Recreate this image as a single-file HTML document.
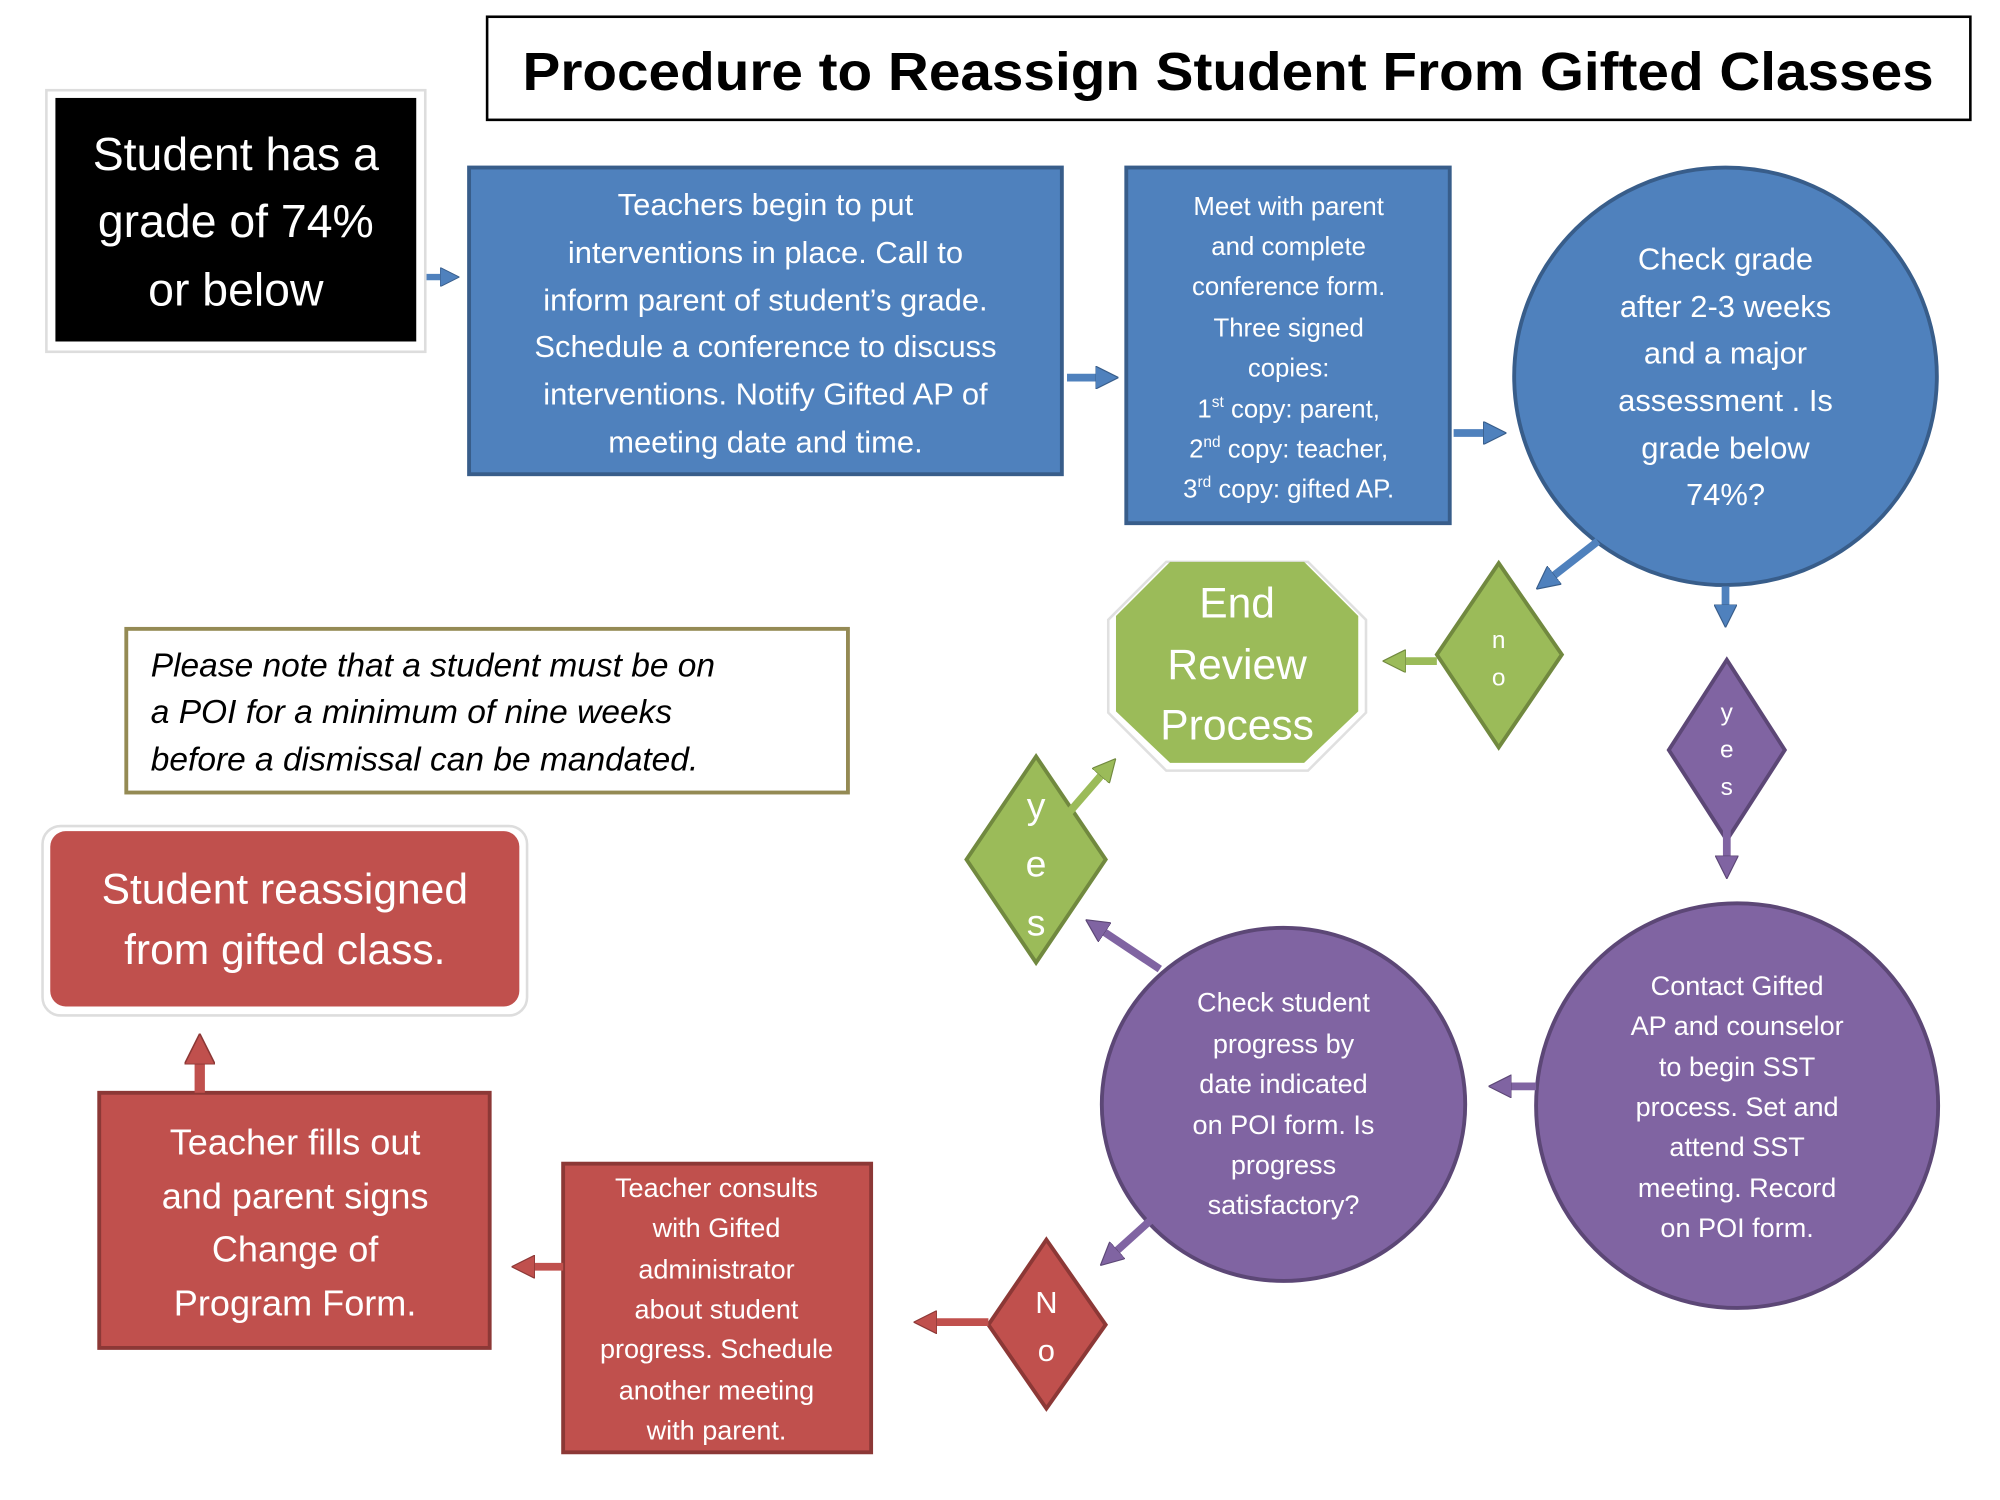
<!DOCTYPE html>
<html><head><meta charset="utf-8"><style>
html,body{margin:0;padding:0;background:#fff;}
svg{display:block;}
text{font-family:"Liberation Sans",sans-serif;}
</style></head><body>
<svg width="2000" height="1500" viewBox="0 0 1552 1164" preserveAspectRatio="none" xmlns="http://www.w3.org/2000/svg">
<defs>
<marker id="hb" markerWidth="3" markerHeight="3" refX="0.5" refY="1.5" orient="auto" markerUnits="strokeWidth"><path d="M0,0 L3,1.5 L0,3 Z" fill="#4f81bd" stroke="#385d8a" stroke-width="0.15"/></marker>
<marker id="hg" markerWidth="3" markerHeight="3" refX="0.5" refY="1.5" orient="auto" markerUnits="strokeWidth"><path d="M0,0 L3,1.5 L0,3 Z" fill="#9bbb59" stroke="#71893f" stroke-width="0.15"/></marker>
<marker id="hp" markerWidth="3" markerHeight="3" refX="0.5" refY="1.5" orient="auto" markerUnits="strokeWidth"><path d="M0,0 L3,1.5 L0,3 Z" fill="#8064a2" stroke="#5c4776" stroke-width="0.15"/></marker>
<marker id="hr" markerWidth="3" markerHeight="3" refX="0.5" refY="1.5" orient="auto" markerUnits="strokeWidth"><path d="M0,0 L3,1.5 L0,3 Z" fill="#c0504d" stroke="#8c3836" stroke-width="0.15"/></marker>
</defs>

<!-- Title -->
<rect x="378" y="13" width="1151" height="80" fill="#fff" stroke="#000" stroke-width="2"/>
<text x="953" y="70" font-size="42" font-weight="bold" text-anchor="middle" textLength="1095" lengthAdjust="spacingAndGlyphs">Procedure to Reassign Student From Gifted Classes</text>

<!-- Black box -->
<rect x="36" y="70" width="294" height="203" fill="#fff" stroke="#ddd" stroke-width="2"/>
<rect x="43" y="76" width="280" height="189" fill="#000"/>
<g fill="#fff" font-size="36" text-anchor="middle">
<text x="183" y="132">Student has a</text>
<text x="183" y="184">grade of 74%</text>
<text x="183" y="237">or below</text>
</g>
<line x1="331" y1="215" x2="344" y2="215" stroke="#4f81bd" stroke-width="5" marker-end="url(#hb)"/>

<!-- Blue rect 1 -->
<rect x="364" y="130" width="460" height="238" fill="#4f81bd" stroke="#385d8a" stroke-width="3"/>
<g fill="#fff" font-size="24" text-anchor="middle">
<text x="594" y="167">Teachers begin to put</text>
<text x="594" y="204">interventions in place. Call to</text>
<text x="594" y="241">inform parent of student’s grade.</text>
<text x="594" y="277">Schedule a conference to discuss</text>
<text x="594" y="314">interventions. Notify Gifted AP of</text>
<text x="594" y="351">meeting date and time.</text>
</g>
<line x1="828" y1="293" x2="853" y2="293" stroke="#4f81bd" stroke-width="6" marker-end="url(#hb)"/>

<!-- Blue rect 2 -->
<rect x="874" y="130" width="251" height="276" fill="#4f81bd" stroke="#385d8a" stroke-width="3"/>
<g fill="#fff" font-size="20" text-anchor="middle">
<text x="1000" y="167">Meet with parent</text>
<text x="1000" y="198">and complete</text>
<text x="1000" y="229">conference  form.</text>
<text x="1000" y="261">Three signed</text>
<text x="1000" y="292">copies:</text>
<text x="1000" y="324">1<tspan font-size="12" dy="-8">st</tspan><tspan dy="8"> copy: parent,</tspan></text>
<text x="1000" y="355">2<tspan font-size="12" dy="-8">nd</tspan><tspan dy="8">  copy: teacher,</tspan></text>
<text x="1000" y="386">3<tspan font-size="12" dy="-8">rd</tspan><tspan dy="8"> copy: gifted AP.</tspan></text>
</g>
<line x1="1128" y1="336" x2="1154" y2="336" stroke="#4f81bd" stroke-width="6" marker-end="url(#hb)"/>

<!-- Blue circle -->
<ellipse cx="1339" cy="292" rx="164" ry="162" fill="#4f81bd" stroke="#385d8a" stroke-width="3"/>
<g fill="#fff" font-size="24" text-anchor="middle">
<text x="1339" y="209">Check grade</text>
<text x="1339" y="246">after 2-3 weeks</text>
<text x="1339" y="282">and a major</text>
<text x="1339" y="319">assessment . Is</text>
<text x="1339" y="356">grade below</text>
<text x="1339" y="392">74%?</text>
</g>
<line x1="1339" y1="455" x2="1339" y2="472" stroke="#4f81bd" stroke-width="6" marker-end="url(#hb)"/>
<line x1="1240" y1="420" x2="1204" y2="448" stroke="#4f81bd" stroke-width="6" marker-end="url(#hb)"/>

<!-- Green diamond no -->
<polygon points="1163,437 1212,508 1163,580 1115,508" fill="#9bbb59" stroke="#71893f" stroke-width="3"/>
<g fill="#fff" font-size="19" text-anchor="middle">
<text x="1163" y="503">n</text>
<text x="1163" y="532">o</text>
</g>
<line x1="1115" y1="513" x2="1088" y2="513" stroke="#9bbb59" stroke-width="6" marker-end="url(#hg)"/>

<!-- Octagon -->
<polygon points="905,436 1015,436 1060,481 1060,553 1015,598 905,598 860,553 860,481" fill="#fff" stroke="#e0e0e0" stroke-width="2"/>
<polygon points="908,436 1012,436 1054,478 1054,552 1012,592 908,592 866,552 866,478" fill="#9bbb59"/>
<g fill="#fff" font-size="33" text-anchor="middle">
<text x="960" y="479">End</text>
<text x="960" y="527">Review</text>
<text x="960" y="574">Process</text>
</g>

<!-- Purple diamond yes -->
<polygon points="1340,512 1385,582 1340,652 1295,582" fill="#8064a2" stroke="#5c4776" stroke-width="3"/>
<g fill="#fff" font-size="19" text-anchor="middle">
<text x="1340" y="559">y</text>
<text x="1340" y="588">e</text>
<text x="1340" y="617">s</text>
</g>
<line x1="1340" y1="640" x2="1340" y2="667" stroke="#8064a2" stroke-width="6" marker-end="url(#hp)"/>

<!-- Purple circle right -->
<ellipse cx="1348" cy="858" rx="156" ry="157" fill="#8064a2" stroke="#5c4776" stroke-width="3"/>
<g fill="#fff" font-size="21" text-anchor="middle">
<text x="1348" y="772">Contact Gifted</text>
<text x="1348" y="803">AP and counselor</text>
<text x="1348" y="835">to begin SST</text>
<text x="1348" y="866">process. Set and</text>
<text x="1348" y="897">attend SST</text>
<text x="1348" y="929">meeting. Record</text>
<text x="1348" y="960">on POI form.</text>
</g>
<line x1="1192" y1="843" x2="1170" y2="843" stroke="#8064a2" stroke-width="6" marker-end="url(#hp)"/>

<!-- Purple circle middle -->
<ellipse cx="996" cy="857" rx="141" ry="137" fill="#8064a2" stroke="#5c4776" stroke-width="3"/>
<g fill="#fff" font-size="21" text-anchor="middle">
<text x="996" y="785">Check student</text>
<text x="996" y="817">progress by</text>
<text x="996" y="848">date indicated</text>
<text x="996" y="880">on POI form. Is</text>
<text x="996" y="911">progress</text>
<text x="996" y="942">satisfactory?</text>
</g>
<line x1="900" y1="752" x2="855" y2="722" stroke="#8064a2" stroke-width="6" marker-end="url(#hp)"/>
<line x1="895" y1="945" x2="865" y2="972" stroke="#8064a2" stroke-width="6" marker-end="url(#hp)"/>

<!-- Green diamond yes -->
<polygon points="804,587 858,667 804,747 750,667" fill="#9bbb59" stroke="#71893f" stroke-width="3"/>
<line x1="830" y1="630" x2="856" y2="600" stroke="#9bbb59" stroke-width="6" marker-end="url(#hg)"/>
<g fill="#fff" font-size="29" text-anchor="middle">
<text x="804" y="635">y</text>
<text x="804" y="680">e</text>
<text x="804" y="726">s</text>
</g>

<!-- Red diamond No -->
<polygon points="812,962 858,1028 812,1093 767,1028" fill="#c0504d" stroke="#8c3836" stroke-width="3"/>
<g fill="#fff" font-size="24" text-anchor="middle">
<text x="812" y="1019">N</text>
<text x="812" y="1056">o</text>
</g>
<line x1="767" y1="1026" x2="724" y2="1026" stroke="#c0504d" stroke-width="6" marker-end="url(#hr)"/>

<!-- Red rect consults -->
<rect x="437" y="903" width="239" height="224" fill="#c0504d" stroke="#8c3836" stroke-width="3"/>
<g fill="#fff" font-size="21" text-anchor="middle">
<text x="556" y="929">Teacher consults</text>
<text x="556" y="960">with Gifted</text>
<text x="556" y="992">administrator</text>
<text x="556" y="1023">about student</text>
<text x="556" y="1054">progress. Schedule</text>
<text x="556" y="1086">another meeting</text>
<text x="556" y="1117">with parent.</text>
</g>
<line x1="437" y1="983" x2="412" y2="983" stroke="#c0504d" stroke-width="6" marker-end="url(#hr)"/>

<!-- Red rect big -->
<rect x="77" y="848" width="303" height="198" fill="#c0504d" stroke="#8c3836" stroke-width="3"/>
<g fill="#fff" font-size="28" text-anchor="middle">
<text x="229" y="896">Teacher fills out</text>
<text x="229" y="938">and parent signs</text>
<text x="229" y="979">Change of</text>
<text x="229" y="1021">Program Form.</text>
</g>
<line x1="155" y1="848" x2="155" y2="822" stroke="#c0504d" stroke-width="8" marker-end="url(#hr)"/>

<!-- Red rounded -->
<rect x="33" y="641" width="376" height="147" rx="14" fill="#fff" stroke="#ddd" stroke-width="2"/>
<rect x="39" y="645" width="364" height="136" rx="12" fill="#c0504d"/>
<g fill="#fff" font-size="33" text-anchor="middle">
<text x="221" y="701">Student reassigned</text>
<text x="221" y="748">from gifted class.</text>
</g>

<!-- Note -->
<rect x="98" y="488" width="560" height="127" fill="#fff" stroke="#948a54" stroke-width="3"/>
<g fill="#000" font-size="26" font-style="italic">
<text x="117" y="525">Please note that a student must be on</text>
<text x="117" y="561">a POI for a minimum of nine weeks</text>
<text x="117" y="598">before a dismissal can be mandated.</text>
</g>
</svg>
</body></html>
